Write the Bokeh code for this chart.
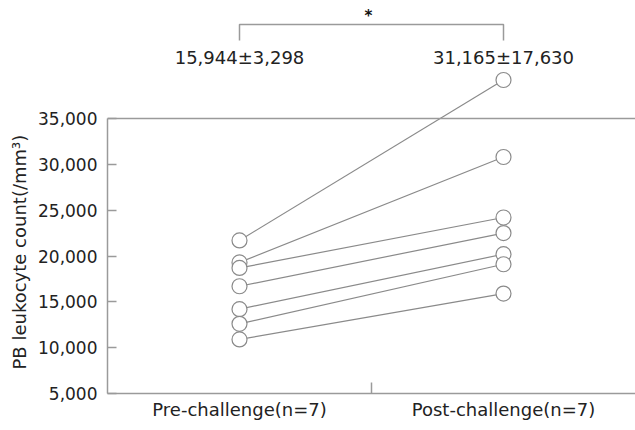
from bokeh.plotting import figure
from bokeh.models import Range1d, FixedTicker, NumeralTickFormatter, Span, ColumnDataSource, Title
from bokeh.core.properties import value
from bokeh.embed import file_html
from bokeh.resources import INLINE

# ---- data ----
categories = ["Pre-challenge(n=7)", "Post-challenge(n=7)"]
pre_values = [21700, 19300, 18700, 16700, 14200, 12600, 10900]
post_values = [39200, 30800, 24200, 22500, 20200, 19100, 15900]
means = [15944, 31165]
sds = [3298, 17630]
y_ticks = [5000, 10000, 15000, 20000, 25000, 30000, 35000]
y_label = "PB leukocyte count(/mm\u00b3)"
significance = "*"

# ---- layout constants ----
W, H = 635, 430
frame_bottom_px = 393          # pixel row of frame bottom
axis_top_px = 118              # pixel row of the top y tick
y_min, y_top = y_ticks[0], y_ticks[-1]
units_per_px = (y_top - y_min) / (frame_bottom_px - axis_top_px)
y_end = y_min + frame_bottom_px * units_per_px

def px_to_y(py):
    return y_min + (frame_bottom_px - py) * units_per_px

FONT = "DejaVu Sans"
TXT = "#222222"
GRAY = "#8a8a8a"
AXG = "#9a9a9a"

xpos = [i + 0.5 for i in range(len(categories))]

p = figure(width=W, height=H, output_backend="svg", toolbar_location=None,
           x_range=Range1d(0, len(categories)), y_range=Range1d(y_min, y_end),
           min_border_left=106, min_border_right=0, min_border_top=0,
           min_border_bottom=H - frame_bottom_px)
p.outline_line_color = None
p.grid.visible = False
p.background_fill_color = "white"
p.border_fill_color = "white"

# y axis
ya = p.yaxis[0]
ya.ticker = FixedTicker(ticks=y_ticks)
ya.formatter = NumeralTickFormatter(format="0,0")
ya.bounds = (y_min, y_top)
ya.major_tick_in = 9
ya.major_tick_out = 0
ya.minor_tick_line_color = None
ya.axis_line_color = AXG
ya.axis_line_width = 1.5
ya.major_tick_line_color = AXG
ya.major_tick_line_width = 1.5
ya.major_label_text_font = FONT
ya.major_label_text_font_size = "17px"
ya.major_label_text_color = TXT
ya.major_label_standoff = 10

# y label as a left-side title so it can be centred on the axis bounds
p.add_layout(Title(text=y_label, align="left", offset=24, text_font=FONT,
                   text_font_size="18px", text_font_style="normal",
                   text_color=TXT, standoff=12), "left")

# x axis
xa = p.xaxis[0]
xa.ticker = FixedTicker(ticks=xpos, minor_ticks=[(a + b) / 2 for a, b in zip(xpos[:-1], xpos[1:])])
xa.major_label_overrides = {x: c for x, c in zip(xpos, categories)}
xa.major_tick_in = 0
xa.major_tick_out = 0
xa.minor_tick_in = 11
xa.minor_tick_out = 0
xa.minor_tick_line_color = AXG
xa.minor_tick_line_width = 1.5
xa.axis_line_color = AXG
xa.axis_line_width = 1.5
xa.major_label_text_font = FONT
xa.major_label_text_font_size = "18px"
xa.major_label_text_color = TXT
xa.major_label_standoff = 5

# top border line at max tick
p.add_layout(Span(location=y_top, dimension="width", line_color=AXG, line_width=1.5))

# paired lines
src = ColumnDataSource(dict(x0=[xpos[0]] * len(pre_values), y0=pre_values,
                            x1=[xpos[1]] * len(post_values), y1=post_values))
p.segment("x0", "y0", "x1", "y1", source=src, line_color=GRAY, line_width=1.2)
p.scatter(x=[xpos[0]] * len(pre_values), y=pre_values, size=15, fill_color="white",
          line_color=GRAY, line_width=1.2)
p.scatter(x=[xpos[1]] * len(post_values), y=post_values, size=15, fill_color="white",
          line_color=GRAY, line_width=1.2)

# mean ± sd labels
labels = [f"{m:,}\u00b1{s:,}" for m, s in zip(means, sds)]
p.text(x=xpos, y=[px_to_y(57)] * len(xpos), text=labels, text_align="center",
       text_baseline="middle", text_font=value(FONT), text_font_size="18px", text_color=TXT)

# significance bracket
yb_top, yb_bot = px_to_y(24), px_to_y(40)
p.line(x=[xpos[0], xpos[0], xpos[1], xpos[1]], y=[yb_bot, yb_top, yb_top, yb_bot],
       line_color=AXG, line_width=1.5)
p.text(x=[sum(xpos) / 2], y=[px_to_y(15)], text=[significance], x_offset=-3,
       text_align="center", text_baseline="middle", text_font=value(FONT),
       text_font_size="15px", text_font_style="bold", text_color="#111111")

open("out.html", "w").write(file_html(p, INLINE))
